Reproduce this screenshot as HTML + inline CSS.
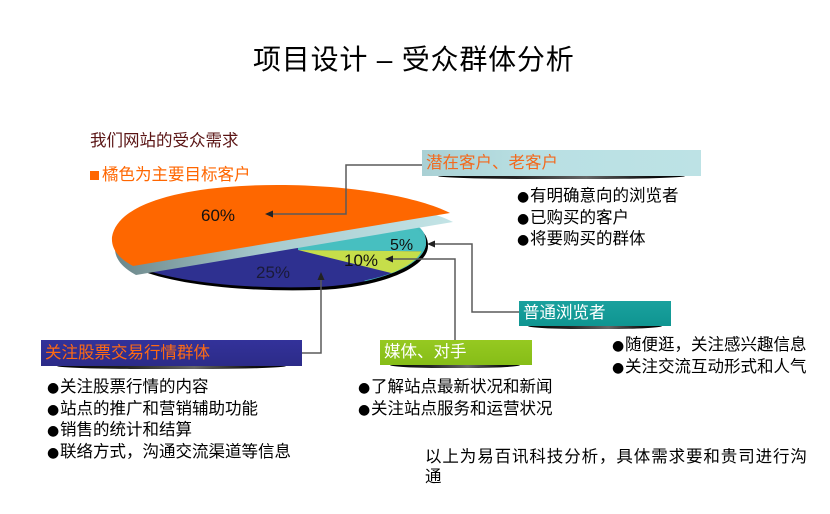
<!DOCTYPE html>
<html>
<head>
<meta charset="utf-8">
<style>
  html,body{margin:0;padding:0;background:#fff;}
  body{width:830px;height:514px;position:relative;overflow:hidden;
       font-family:"Liberation Sans","Noto Sans CJK SC",sans-serif;color:#000;}
  .t{position:absolute;white-space:nowrap;font-size:16.5px;line-height:20.5px;}
  .b{display:inline-block;width:13px;font-family:"DejaVu Sans",sans-serif;font-size:14px;}
  .box{position:absolute;white-space:nowrap;font-size:16.5px;box-sizing:border-box;padding-left:4px;}
  .sh{position:absolute;height:3px;background:linear-gradient(90deg,#000 0%,#222 30%,#666 60%,#111 85%,#000 100%);border-radius:0 0 40% 40%/0 0 100% 100%;}
</style>
</head>
<body>

<div class="t" style="left:253px;top:44px;font-size:28px;line-height:32px;letter-spacing:0.8px;">项目设计 – 受众群体分析</div>

<div class="t" style="left:90px;top:131px;color:#5a1414;">我们网站的受众需求</div>
<div class="t" style="left:90px;top:165px;color:#ff6600;"><span style="display:inline-block;width:9px;height:9px;background:#ff6600;margin-right:3px;vertical-align:0px;"></span>橘色为主要目标客户</div>

<svg width="830" height="514" style="position:absolute;left:0;top:0;">
  <defs>
    <linearGradient id="band" x1="0" x2="1" y1="0" y2="0">
      <stop offset="0" stop-color="#6c878a"/>
      <stop offset="0.45" stop-color="#a7cbcf"/>
      <stop offset="1" stop-color="#c3e4e6"/>
    </linearGradient>
    <clipPath id="lp">
      <path d="M140,268 C180,283 250,289 315,287 C380,285 426,264 426,243 C426,234 422,229 417,226 L140,262 Z"/>
    </clipPath>
  </defs>

  <!-- lower pie black rim -->
  <path transform="translate(2,3)" fill="#000" d="M140,268 C180,283 250,289 315,287 C380,285 426,264 426,243 C426,234 422,229 417,226 L140,262 Z"/>
  <!-- lower pie slices -->
  <g clip-path="url(#lp)">
    <rect x="100" y="180" width="400" height="130" fill="#2e3090"/>
    <polygon points="298,250 480,252 480,180 298,180" fill="#47bfc0"/>
    <polygon points="298,250 480,252 480,292 468,292" fill="#c6de4a"/>
    <path d="M365,283 C400,276 426,262 426,243 C426,234 422,229 417,226" fill="none" stroke="#45bcbd" stroke-width="5"/>
  </g>

  <!-- orange slice thickness band -->
  <path transform="translate(3,9)" fill="url(#band)" d="M450,213 C420,198 360,186 285,185 C195,184 118,200 112,237 C111,250 120,259 133,266 Z"/>
  <!-- orange slice -->
  <path fill="#fe6700" d="M450,213 C420,198 360,186 285,185 C195,184 118,200 112,237 C111,250 120,259 133,266 Z"/>

  <!-- pie labels -->
  <text x="201" y="221" font-family="Liberation Sans, sans-serif" font-size="17" fill="#111">60%</text>
  <text x="256" y="278" font-family="Liberation Sans, sans-serif" font-size="17" fill="#1a1a38">25%</text>
  <text x="344" y="266" font-family="Liberation Sans, sans-serif" font-size="17" fill="#111">10%</text>
  <text x="390" y="250" font-family="Liberation Sans, sans-serif" font-size="16" fill="#111">5%</text>

  <!-- connectors -->
  <g fill="none" stroke="#5a5a5a" stroke-width="1.5">
    <path d="M423,165 H346 V214 H272"/>
    <path d="M519,312 H472 V244 H433"/>
    <path d="M455,340 V259 H391"/>
    <path d="M302,353 H321 V279"/>
  </g>
  <g fill="#222">
    <polygon points="265,214 273,210.5 273,217.5"/>
    <polygon points="427,244 435,240.5 435,247.5"/>
    <polygon points="385,259 393,255.5 393,262.5"/>
    <polygon points="321,272 317.5,280 324.5,280"/>
  </g>
</svg>

<!-- Box: 潜在客户、老客户 -->
<div class="sh" style="left:438px;top:176px;width:247px;"></div>
<div class="box" style="left:422px;top:150px;width:279px;height:26px;line-height:26px;color:#f26a1f;background:linear-gradient(90deg,#a9d0d4 0%,#b9e0e3 40%,#bde2e5 100%);">潜在客户、老客户</div>
<div class="t" style="left:517px;top:186px;"><span class="b">●</span>有明确意向的浏览者<br><span class="b">●</span>已购买的客户<br><span class="b">●</span>将要购买的群体</div>

<!-- Box: 普通浏览者 -->
<div class="sh" style="left:528px;top:326px;width:134px;"></div>
<div class="box" style="left:519px;top:301px;width:152px;height:25px;line-height:25px;color:#fff;background:linear-gradient(180deg,#1aa19e 0%,#0f9591 100%);">普通浏览者</div>
<div class="t" style="left:612px;top:335px;"><span class="b">●</span>随便逛，关注感兴趣信息<br><span class="b">●</span>关注交流互动形式和人气</div>

<!-- Box: 关注股票交易行情群体 -->
<div class="sh" style="left:57px;top:366px;width:229px;"></div>
<div class="box" style="left:41px;top:340px;width:261px;height:26px;line-height:26px;color:#ff6a13;background:linear-gradient(180deg,#33329a 0%,#2c2b88 100%);">关注股票交易行情群体</div>
<div class="t" style="left:47px;top:377px;"><span class="b">●</span>关注股票行情的内容<br><span class="b">●</span>站点的推广和营销辅助功能<br><span class="b">●</span>销售的统计和结算<br><span class="b">●</span>联络方式，沟通交流渠道等信息</div>

<!-- Box: 媒体、对手 -->
<div class="sh" style="left:390px;top:365px;width:130px;"></div>
<div class="box" style="left:380px;top:340px;width:152px;height:25px;line-height:25px;color:#fff;background:linear-gradient(180deg,#96c921 0%,#86bd17 100%);">媒体、对手</div>
<div class="t" style="left:358px;top:377px;"><span class="b">●</span>了解站点最新状况和新闻<br><span class="b">●</span>关注站点服务和运营状况</div>

<div class="t" style="left:425px;top:447px;line-height:20px;letter-spacing:0.9px;">以上为易百讯科技分析，具体需求要和贵司进行沟<br>通</div>

</body>
</html>
